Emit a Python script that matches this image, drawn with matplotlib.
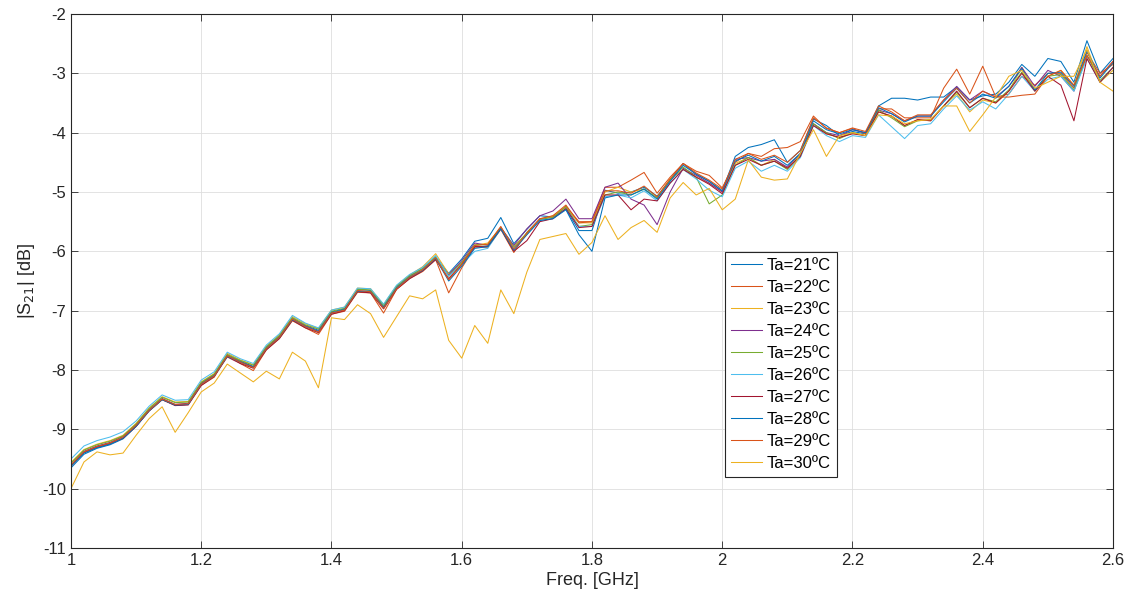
import numpy as np
import matplotlib
matplotlib.use('Agg')
import matplotlib.pyplot as plt

plt.rcParams['font.family'] = ['Liberation Sans', 'DejaVu Sans']

# frequency grid [GHz], 0.02 GHz steps
freq = np.round(np.arange(1.0, 2.6001, 0.02), 2)

ta21 = [-9.65, -9.42, -9.32, -9.26, -9.16, -8.95, -8.68, -8.49, -8.59, -8.58,
        -8.22, -8.08, -7.74, -7.85, -7.94, -7.62, -7.43, -7.12, -7.25, -7.33,
        -7.02, -6.97, -6.64, -6.66, -6.93, -6.60, -6.42, -6.29, -6.10, -6.37,
        -6.13, -5.83, -5.78, -5.43, -5.87, -5.63, -5.40, -5.42, -5.29, -5.65,
        -5.65, -4.97, -5.02, -5.00, -4.92, -5.07, -4.80, -4.52, -4.70, -4.82,
        -4.98, -4.40, -4.25, -4.20, -4.12, -4.50, -4.30, -3.77, -3.88, -4.05,
        -3.98, -4.02, -3.55, -3.42, -3.42, -3.45, -3.40, -3.40, -3.23, -3.45,
        -3.38, -3.35, -3.15, -2.85, -3.05, -2.75, -2.80, -3.15, -2.45, -3.00,
        -2.75]
ta22 = [-9.61, -9.39, -9.30, -9.24, -9.15, -8.95, -8.69, -8.50, -8.59, -8.58,
        -8.26, -8.12, -7.75, -7.89, -8.01, -7.66, -7.47, -7.17, -7.29, -7.40,
        -7.06, -7.01, -6.69, -6.70, -7.04, -6.64, -6.46, -6.34, -6.14, -6.70,
        -6.28, -5.93, -5.93, -5.63, -6.02, -5.68, -5.45, -5.42, -5.24, -5.50,
        -5.50, -4.92, -4.92, -4.80, -4.67, -5.02, -4.75, -4.52, -4.65, -4.72,
        -4.93, -4.50, -4.35, -4.40, -4.27, -4.25, -4.15, -3.72, -3.93, -4.00,
        -3.93, -4.02, -3.60, -3.60, -3.75, -3.75, -3.75, -3.25, -2.93, -3.35,
        -2.88, -3.40, -3.35, -3.05, -3.20, -3.00, -3.00, -3.25, -2.65, -3.00,
        -2.85]
ta23 = [-9.56, -9.34, -9.25, -9.19, -9.10, -8.90, -8.64, -8.45, -8.54, -8.53,
        -8.20, -8.06, -7.72, -7.83, -7.91, -7.60, -7.41, -7.10, -7.22, -7.30,
        -6.99, -6.94, -6.62, -6.63, -6.90, -6.58, -6.40, -6.26, -6.04, -6.38,
        -6.20, -5.90, -5.86, -5.60, -5.92, -5.70, -5.47, -5.40, -5.26, -5.52,
        -5.52, -5.00, -4.92, -5.00, -4.95, -5.10, -4.78, -4.62, -4.75, -4.85,
        -5.00, -4.52, -4.42, -4.55, -4.45, -4.60, -4.38, -3.85, -4.02, -4.08,
        -4.00, -4.05, -3.65, -3.72, -3.88, -3.78, -3.80, -3.55, -3.35, -3.65,
        -3.45, -3.50, -3.30, -2.90, -3.30, -3.05, -2.95, -3.20, -2.55, -3.15,
        -2.95]
ta24 = [-9.60, -9.37, -9.28, -9.22, -9.12, -8.92, -8.67, -8.48, -8.58, -8.56,
        -8.23, -8.09, -7.76, -7.86, -7.95, -7.64, -7.44, -7.14, -7.26, -7.35,
        -7.04, -6.99, -6.67, -6.68, -6.95, -6.62, -6.44, -6.32, -6.12, -6.40,
        -6.16, -5.86, -5.90, -5.60, -5.90, -5.62, -5.40, -5.32, -5.12, -5.45,
        -5.45, -4.92, -4.85, -5.12, -5.22, -5.55, -5.00, -4.60, -4.72, -4.85,
        -5.00, -4.45, -4.42, -4.48, -4.45, -4.58, -4.35, -3.85, -4.00, -4.05,
        -3.95, -4.00, -3.62, -3.68, -3.80, -3.72, -3.72, -3.45, -3.22, -3.45,
        -3.30, -3.40, -3.22, -2.90, -3.22, -2.95, -3.05, -3.30, -2.70, -3.05,
        -2.80]
ta25 = [-9.57, -9.35, -9.26, -9.20, -9.11, -8.91, -8.65, -8.46, -8.55, -8.54,
        -8.21, -8.07, -7.74, -7.84, -7.92, -7.61, -7.42, -7.12, -7.24, -7.31,
        -7.01, -6.96, -6.64, -6.65, -6.91, -6.59, -6.41, -6.29, -6.09, -6.42,
        -6.19, -5.89, -5.89, -5.60, -5.93, -5.69, -5.46, -5.43, -5.25, -5.58,
        -5.55, -5.05, -5.00, -5.05, -4.95, -5.10, -4.80, -4.58, -4.75, -5.20,
        -5.05, -4.55, -4.42, -4.55, -4.48, -4.62, -4.38, -3.85, -4.00, -4.10,
        -4.00, -4.05, -3.62, -3.75, -3.90, -3.80, -3.78, -3.55, -3.32, -3.58,
        -3.42, -3.48, -3.28, -2.98, -3.28, -3.05, -3.02, -3.28, -2.70, -3.12,
        -2.90]
ta26 = [-9.50, -9.28, -9.19, -9.13, -9.04, -8.86, -8.61, -8.42, -8.51, -8.50,
        -8.17, -8.03, -7.70, -7.81, -7.89, -7.58, -7.39, -7.08, -7.21, -7.29,
        -6.99, -6.94, -6.62, -6.63, -6.89, -6.57, -6.39, -6.27, -6.07, -6.42,
        -6.22, -6.00, -5.95, -5.62, -5.95, -5.72, -5.48, -5.45, -5.28, -5.58,
        -5.58, -5.08, -5.05, -5.10, -4.98, -5.15, -4.85, -4.62, -4.78, -4.97,
        -5.08, -4.60, -4.48, -4.65, -4.55, -4.65, -4.42, -3.88, -4.05, -4.15,
        -4.05, -4.08, -3.70, -3.90, -4.10, -3.88, -3.85, -3.60, -3.38, -3.62,
        -3.48, -3.60, -3.35, -3.05, -3.30, -3.10, -3.05, -3.30, -2.75, -3.15,
        -2.90]
ta27 = [-9.62, -9.39, -9.30, -9.24, -9.15, -8.95, -8.69, -8.50, -8.60, -8.59,
        -8.26, -8.11, -7.78, -7.89, -7.97, -7.66, -7.47, -7.16, -7.29, -7.37,
        -7.06, -7.00, -6.68, -6.70, -6.97, -6.64, -6.46, -6.33, -6.14, -6.46,
        -6.22, -5.92, -5.92, -5.62, -6.00, -5.82, -5.50, -5.45, -5.28, -5.60,
        -5.58, -5.05, -5.05, -5.30, -5.12, -5.15, -4.85, -4.62, -4.75, -4.87,
        -5.03, -4.55, -4.45, -4.55, -4.48, -4.60, -4.40, -3.88, -4.02, -4.08,
        -4.02, -4.05, -3.65, -3.72, -3.88, -3.78, -3.80, -3.55, -3.30, -3.58,
        -3.42, -3.50, -3.30, -3.00, -3.30, -3.05, -3.20, -3.80, -2.75, -3.15,
        -2.90]
ta28 = [-9.62, -9.40, -9.31, -9.25, -9.15, -8.95, -8.69, -8.50, -8.59, -8.58,
        -8.24, -8.10, -7.77, -7.87, -7.95, -7.64, -7.45, -7.15, -7.27, -7.35,
        -7.04, -6.98, -6.67, -6.68, -6.95, -6.62, -6.44, -6.32, -6.12, -6.50,
        -6.25, -5.95, -5.92, -5.62, -5.98, -5.72, -5.48, -5.45, -5.30, -5.72,
        -6.00, -5.10, -5.05, -5.05, -4.95, -5.12, -4.82, -4.55, -4.70, -4.82,
        -4.98, -4.48, -4.38, -4.48, -4.40, -4.55, -4.35, -3.80, -3.95, -4.02,
        -3.95, -4.00, -3.58, -3.68, -3.82, -3.72, -3.72, -3.48, -3.25, -3.50,
        -3.35, -3.42, -3.22, -2.92, -3.28, -3.00, -2.98, -3.22, -2.62, -3.08,
        -2.82]
ta29 = [-9.60, -9.38, -9.29, -9.23, -9.13, -8.93, -8.68, -8.49, -8.58, -8.57,
        -8.24, -8.10, -7.76, -7.87, -7.96, -7.64, -7.45, -7.14, -7.27, -7.36,
        -7.04, -6.99, -6.66, -6.68, -6.96, -6.63, -6.44, -6.31, -6.11, -6.48,
        -6.22, -5.90, -5.88, -5.58, -5.96, -5.70, -5.45, -5.40, -5.22, -5.52,
        -5.50, -4.98, -4.98, -5.02, -4.90, -5.08, -4.78, -4.52, -4.68, -4.80,
        -4.95, -4.45, -4.35, -4.45, -4.38, -4.50, -4.30, -3.75, -3.92, -4.00,
        -3.92, -3.98, -3.55, -3.65, -3.80, -3.70, -3.70, -3.45, -3.25, -3.50,
        -3.30, -3.40, -3.40, -3.37, -3.35, -3.05, -2.95, -3.20, -2.70, -3.05,
        -2.80]
ta30 = [-10.00, -9.55, -9.38, -9.43, -9.40, -9.10, -8.82, -8.62, -9.05, -8.72,
        -8.37, -8.22, -7.90, -8.05, -8.20, -8.02, -8.15, -7.70, -7.85, -8.30,
        -7.12, -7.15, -6.90, -7.05, -7.45, -7.10, -6.75, -6.80, -6.65, -7.50,
        -7.80, -7.25, -7.55, -6.65, -7.05, -6.35, -5.80, -5.75, -5.70, -6.05,
        -5.85, -5.40, -5.80, -5.60, -5.48, -5.68, -5.10, -4.84, -5.05, -4.94,
        -5.30, -5.12, -4.46, -4.75, -4.80, -4.78, -4.35, -3.95, -4.40, -4.05,
        -4.00, -4.05, -3.70, -3.72, -3.85, -3.80, -3.78, -3.55, -3.55, -3.98,
        -3.70, -3.40, -3.05, -2.95, -3.25, -3.15, -3.05, -3.05, -2.60, -3.15,
        -3.30]

series = [ta21, ta22, ta23, ta24, ta25, ta26, ta27, ta28, ta29, ta30]
labels = ['Ta=%dºC' % t for t in range(21, 31)]
# MATLAB default line colour order
colors = ['#0072BD', '#D95319', '#EDB120', '#7E2F8E', '#77AC30',
          '#4DBEEE', '#A2142F', '#0072BD', '#D95319', '#EDB120']

fig = plt.figure(figsize=(11.28, 5.98), dpi=100)
ax = fig.add_axes([0.0629, 0.0836, 0.9238, 0.893])

for y, lab, c in zip(series, labels, colors):
    ax.plot(freq, y, color=c, lw=0.75, label=lab)

ax.set_xlim(1, 2.6)
ax.set_ylim(-11, -2)
ax.set_xticks(np.arange(1.0, 2.61, 0.2))
ax.set_xticklabels(['1', '1.2', '1.4', '1.6', '1.8', '2', '2.2', '2.4', '2.6'])
ax.set_yticks(np.arange(-11, -1.9, 1))
ax.set_yticklabels(['%d' % v for v in range(-11, -1)])
ax.grid(True, color='#dedede', lw=0.6)
ax.set_axisbelow(True)
ax.tick_params(direction='in', length=5, width=0.6, labelsize=12, colors='#262626',
               top=True, right=True)
for s in ax.spines.values():
    s.set_color('#262626')
    s.set_linewidth(0.8)

ax.set_xlabel('Freq. [GHz]', fontsize=13, color='#262626', labelpad=3)
ax.set_ylabel('|S$_{21}$| [dB]', fontsize=13, color='#262626', labelpad=4)

leg = ax.legend(loc='upper left', bbox_to_anchor=(0.6276, 0.554), fontsize=12,
                frameon=True, fancybox=False, handlelength=1.9, handletextpad=0.25,
                labelspacing=0.42, borderpad=0.35, borderaxespad=0)
leg.get_frame().set_edgecolor('#262626')
leg.get_frame().set_linewidth(0.8)
leg.get_frame().set_alpha(1)

plt.savefig('out.png', dpi=100)
